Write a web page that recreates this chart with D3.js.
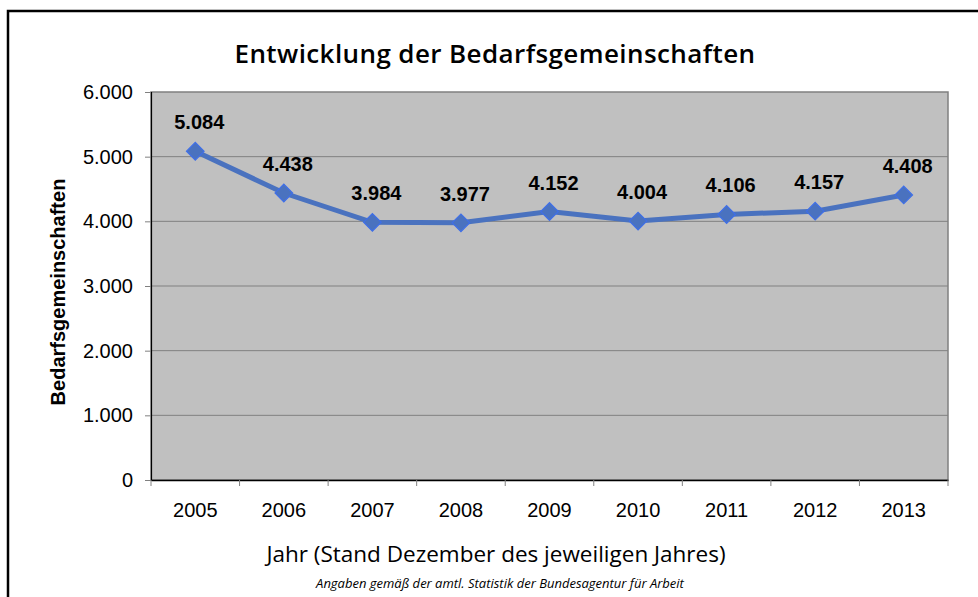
<!DOCTYPE html>
<html>
<head>
<meta charset="utf-8">
<script src="https://cdn.jsdelivr.net/npm/d3@7"></script>
<style>
  body { margin: 0; background: #fff; }
  svg { display: block; }
</style>
</head>
<body>
<div id="chart"></div>
<script>
// Bedarfsgemeinschaften, Stand Dezember
const years = ['2005', '2006', '2007', '2008', '2009', '2010', '2011', '2012', '2013']
const values = [5084, 4438, 3984, 3977, 4152, 4004, 4106, 4157, 4408]
const yTicks = [0, 1000, 2000, 3000, 4000, 5000, 6000]

const W = 978, H = 597
const plot = { left: 151, top: 92, right: 948, bottom: 480 }
const sans = 'Liberation Sans, Arial, sans-serif'

const fmt = v => v === 0 ? '0' : d3.format(',')(v).replace(/,/g, '.')

const svg = d3.select('#chart').append('svg').attr('width', W).attr('height', H)

// outer frame
svg.append('rect')
  .attr('x', 8).attr('y', 11).attr('width', W + 10).attr('height', H + 10)
  .attr('fill', 'none').attr('stroke', '#000').attr('stroke-width', 2.5)

const x = d3.scaleBand().domain(years).range([plot.left, plot.right])
const y = d3.scaleLinear().domain([0, 6000]).range([plot.bottom, plot.top])

// plot background
svg.append('rect')
  .attr('x', plot.left).attr('y', plot.top)
  .attr('width', plot.right - plot.left).attr('height', plot.bottom - plot.top)
  .attr('fill', '#c0c0c0').attr('stroke', '#808080').attr('stroke-width', 1.5)

// gridlines
svg.append('g').selectAll('line').data(yTicks.filter(t => t > 0 && t < 6000)).join('line')
  .attr('x1', plot.left).attr('x2', plot.right)
  .attr('y1', d => y(d)).attr('y2', d => y(d))
  .attr('stroke', '#808080').attr('stroke-width', 1)

// y axis
const yAxis = svg.append('g').attr('transform', `translate(${plot.left},0)`)
  .call(d3.axisLeft(y).tickValues(yTicks).tickFormat(fmt).tickSize(6).tickPadding(12))
yAxis.select('.domain').attr('stroke', '#000').attr('stroke-width', 1.2)
yAxis.selectAll('.tick line').attr('stroke', '#808080')
yAxis.selectAll('text').attr('font-family', sans).attr('font-size', 20).attr('fill', '#000')

// x axis
const xAxis = svg.append('g').attr('transform', `translate(0,${plot.bottom})`)
  .call(d3.axisBottom(x).tickSize(0).tickPadding(23))
xAxis.select('.domain').attr('stroke', '#000').attr('stroke-width', 1.5)
xAxis.selectAll('text').attr('font-family', sans).attr('font-size', 20).attr('fill', '#000')
// category separators below the axis
svg.append('g').selectAll('line').data(years.concat(['end'])).join('line')
  .attr('x1', (d, i) => plot.left + i * x.step()).attr('x2', (d, i) => plot.left + i * x.step())
  .attr('y1', plot.bottom).attr('y2', plot.bottom + 6)
  .attr('stroke', '#808080')

// line
const cx = d => x(d) + x.bandwidth() / 2
svg.append('path')
  .datum(values)
  .attr('d', d3.line().x((d, i) => cx(years[i])).y(d => y(d)))
  .attr('fill', 'none').attr('stroke', '#4a72bf').attr('stroke-width', 5)

// diamond markers
svg.append('g').selectAll('path').data(values).join('path')
  .attr('d', d3.symbol(d3.symbolSquare, 155)())
  .attr('transform', (d, i) => `translate(${cx(years[i])},${y(d)}) rotate(45)`)
  .attr('fill', '#4a72bf').attr('stroke', '#3f6fe8').attr('stroke-width', 1.2)

// data labels
svg.append('g').selectAll('text').data(values).join('text')
  .attr('x', (d, i) => cx(years[i]) + 4)
  .attr('y', d => y(d) - 22)
  .attr('text-anchor', 'middle')
  .attr('font-family', sans)
  .attr('font-weight', 'bold').attr('font-size', 20)
  .text(fmt)

// title
svg.append('text')
  .attr('x', 495).attr('y', 63).attr('text-anchor', 'middle')
  .attr('font-family', 'Open Sans, sans-serif').attr('font-weight', 600).attr('font-size', 26)
  .attr('letter-spacing', 0.4)
  .text('Entwicklung der Bedarfsgemeinschaften')

// y axis title
svg.append('text')
  .attr('transform', 'translate(65,292) rotate(-90)')
  .attr('text-anchor', 'middle')
  .attr('font-family', sans)
  .attr('font-weight', 'bold').attr('font-size', 20)
  .text('Bedarfsgemeinschaften')

// x axis title
svg.append('text')
  .attr('x', 496).attr('y', 562).attr('text-anchor', 'middle')
  .attr('font-family', 'Open Sans, sans-serif').attr('font-size', 22.5)
  .text('Jahr (Stand Dezember des jeweiligen Jahres)')

svg.append('text')
  .attr('x', 500).attr('y', 588).attr('text-anchor', 'middle')
  .attr('font-family', 'Open Sans, sans-serif').attr('font-style', 'italic').attr('font-size', 13)
  .text('Angaben gemäß der amtl. Statistik der Bundesagentur für Arbeit')
</script>
</body>
</html>
